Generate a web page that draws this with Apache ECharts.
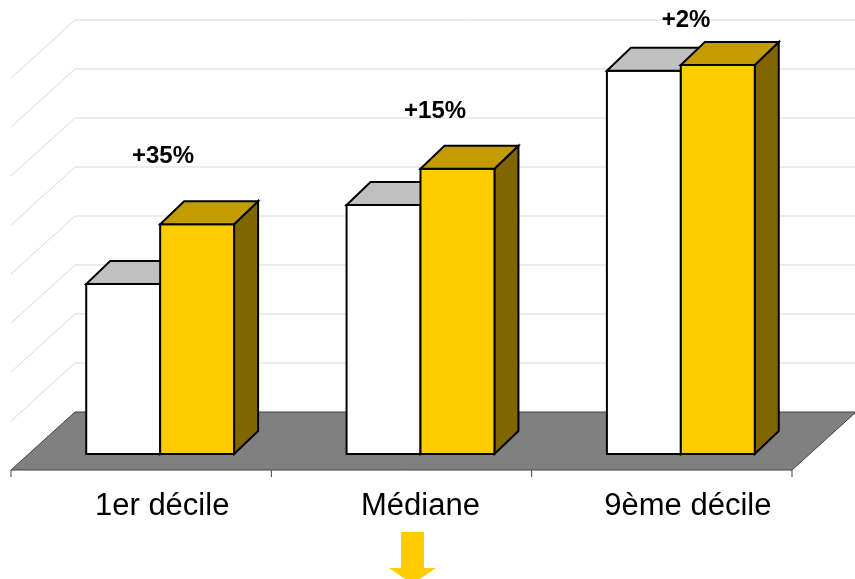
<!DOCTYPE html>
<html><head><meta charset="utf-8">
<script src="https://cdn.jsdelivr.net/npm/echarts@6/dist/echarts.min.js"></script>
<style>html,body{margin:0;padding:0;background:#fff}#c{width:855px;height:579px}</style>
</head><body><div id="c"></div>
<script>
// ---- data ----
const categories = ['1er décile', 'Médiane', '9ème décile'];
const seriesWhite = [3.47, 5.08, 7.82];
const seriesYellow = [4.69, 5.82, 7.94];
const growthLabels = ['+35%', '+15%', '+2%'];
const gridLevels = [1, 2, 3, 4, 5, 6, 7, 8];

// ---- layout / style ----
const FONT = "'Liberation Sans', Arial, sans-serif";
const FRONT = [-19, 16], BACK = [45, -42], BAR_DEPTH = [24, -23];
const BAR_FRAC = 0.284;
const labelAnchor = [[0.011, 6.08], [0.056, 7.0], [0.02, 8.84]];
const catLabelPad = [[0, 0, 0, 4], [0, 0, 0, 0], [0, 0, 0, 14]];
const whiteColors = { front: '#ffffff', top: '#c0c0c0', side: '#808080' };
const yellowColors = { front: '#ffcc00', top: '#c29c00', side: '#7f6600' };

function wallsRenderer(params, api) {
  const cs = params.coordSys;
  const left = cs.x, right = cs.x + cs.width, base = cs.y + cs.height;
  const children = [];
  const g = { stroke: '#d9d9d9', lineWidth: 1 };
  gridLevels.forEach(l => {
    const y = api.coord([0, l])[1];
    children.push({ type: 'line', shape: { x1: left + BACK[0], y1: y + BACK[1], x2: right + BACK[0] + 10, y2: y + BACK[1] }, style: g });
    children.push({ type: 'line', shape: { x1: left + BACK[0], y1: y + BACK[1], x2: left + FRONT[0], y2: y + FRONT[1] }, style: g });
  });
  children.push({ type: 'polygon', shape: { points: [
    [left + FRONT[0], base + FRONT[1]], [right + FRONT[0], base + FRONT[1]],
    [right + BACK[0], base + BACK[1]], [left + BACK[0], base + BACK[1]]] },
    style: { fill: '#808080', stroke: '#404040', lineWidth: 1 } });
  const bw = api.size([1, 0])[0];
  for (let k = 0; k <= categories.length; k++) {
    const x = left + FRONT[0] + k * bw;
    children.push({ type: 'line', shape: { x1: x, y1: base + FRONT[1], x2: x, y2: base + FRONT[1] + 7 }, style: { stroke: '#404040', lineWidth: 1 } });
  }
  return { type: 'group', children };
}

function barRenderer(colors, side) {
  return function (params, api) {
    const i = api.value(0), v = api.value(1);
    const c = api.coord([i, 0]), t = api.coord([i, v]);
    const bw = api.size([1, 0])[0] * BAR_FRAC;
    const x0 = side === 0 ? c[0] - bw : c[0];
    const x1 = x0 + bw, yb = c[1], yt = t[1];
    const dx = BAR_DEPTH[0], dy = BAR_DEPTH[1];
    const st = { stroke: '#000', lineWidth: 2, lineJoin: 'miter' };
    return { type: 'group', children: [
      { type: 'polygon', shape: { points: [[x1, yt], [x1 + dx, yt + dy], [x1 + dx, yb + dy], [x1, yb]] }, style: Object.assign({ fill: colors.side }, st) },
      { type: 'rect', shape: { x: x0, y: yt, width: bw, height: yb - yt }, style: Object.assign({ fill: colors.front }, st) },
      { type: 'polygon', shape: { points: [[x0, yt], [x1, yt], [x1 + dx, yt + dy], [x0 + dx, yt + dy]] }, style: Object.assign({ fill: colors.top }, st) }
    ] };
  };
}

function labelRenderer(params, api) {
  const i = api.value(0);
  const a = labelAnchor[i];
  const p = api.coord([i, a[1]]);
  const bw = api.size([1, 0])[0];
  return { type: 'text', style: { x: p[0] + a[0] * bw, y: p[1], text: growthLabels[i], align: 'center', verticalAlign: 'middle',
    font: 'bold 24px ' + FONT, fill: '#000' } };
}

const chart = echarts.init(document.getElementById('c'), null, { renderer: 'canvas' });
chart.setOption({
  backgroundColor: '#ffffff',
  animation: false,
  grid: { left: 30, width: 781, top: 13, height: 441 },
  xAxis: { type: 'category',
    data: categories.map((c, i) => ({ value: c, textStyle: { padding: catLabelPad[i] } })),
    axisLine: { show: false }, axisTick: { show: false },
    axisLabel: { fontSize: 31, fontFamily: FONT, color: '#000', margin: 37 } },
  yAxis: { type: 'value', min: 0, max: 9, interval: 1, show: false },
  series: [
    { type: 'custom', name: 'walls', renderItem: wallsRenderer, data: [[0, 0]], clip: false, silent: true, z: 1 },
    { type: 'custom', name: 'Série 1', renderItem: barRenderer(whiteColors, 0), data: seriesWhite.map((v, i) => [i, v]), clip: false, z: 2 },
    { type: 'custom', name: 'Série 2', renderItem: barRenderer(yellowColors, 1), data: seriesYellow.map((v, i) => [i, v]), clip: false, z: 3 },
    { type: 'custom', name: 'Évolution', renderItem: labelRenderer, data: growthLabels.map((s, i) => [i, 0]), clip: false, silent: true, z: 4 }
  ],
  graphic: [{ type: 'polygon', shape: { points: [[401, 532], [424, 532], [424, 568], [436, 568], [412.5, 584], [389, 568], [401, 568]] },
    style: { fill: '#ffcc00' }, z: 10 }]
});
</script></body></html>
